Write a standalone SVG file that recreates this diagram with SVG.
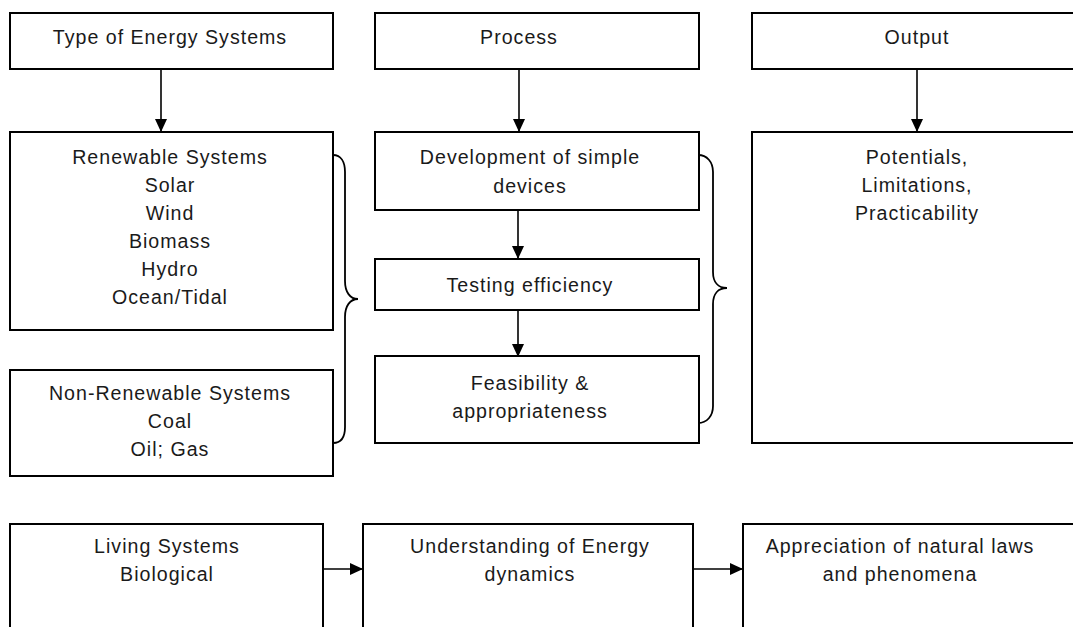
<svg xmlns="http://www.w3.org/2000/svg" width="1073" height="627" viewBox="0 0 1073 627">
<style>
rect.b{fill:#fff;stroke:#000;stroke-width:2}
text{font-family:"Liberation Sans",Arial,sans-serif;font-size:19.6px;letter-spacing:1px;fill:#1a1a1a;text-anchor:middle}
.c{fill:none;stroke:#000;stroke-width:1.6}
.br{fill:none;stroke:#000;stroke-width:1.8}
</style>
<defs>
<marker id="ah" markerUnits="userSpaceOnUse" markerWidth="14" markerHeight="14" viewBox="0 0 14 14" refX="13" refY="7" orient="auto">
<path d="M0,1 L13,7 L0,13 Z" fill="#000"/>
</marker>
</defs>
<rect width="1073" height="627" fill="#fff"/>
<g id="n-type"><rect class="b" x="10" y="13" width="323" height="56"/><text x="170" y="44">Type of Energy Systems</text></g>
<g id="n-process"><rect class="b" x="375" y="13" width="324" height="56"/><text x="519" y="44">Process</text></g>
<g id="n-output"><rect class="b" x="752" y="13" width="330" height="56"/><text x="917" y="44">Output</text></g>
<g id="n-renewable"><rect class="b" x="10" y="132" width="323" height="198"/>
<text x="170" y="164">Renewable Systems</text><text x="170" y="192">Solar</text><text x="170" y="220">Wind</text><text x="170" y="248">Biomass</text><text x="170" y="276">Hydro</text><text x="170" y="304">Ocean/Tidal</text></g>
<g id="n-nonrenewable"><rect class="b" x="10" y="370" width="323" height="106"/>
<text x="170" y="400">Non-Renewable Systems</text><text x="170" y="428">Coal</text><text x="170" y="456">Oil; Gas</text></g>
<g id="n-development"><rect class="b" x="375" y="132" width="324" height="78"/>
<text x="530" y="164">Development of simple</text><text x="530" y="193">devices</text></g>
<g id="n-testing"><rect class="b" x="375" y="259" width="324" height="51"/><text x="530" y="292">Testing efficiency</text></g>
<g id="n-feasibility"><rect class="b" x="375" y="356" width="324" height="87"/>
<text x="530" y="390">Feasibility &amp;</text><text x="530" y="418">appropriateness</text></g>
<g id="n-potentials"><rect class="b" x="752" y="132" width="330" height="311"/>
<text x="917" y="164">Potentials,</text><text x="917" y="192">Limitations,</text><text x="917" y="220">Practicability</text></g>
<g id="n-living"><rect class="b" x="10" y="524" width="313" height="130"/>
<text x="167" y="553">Living Systems</text><text x="167" y="581">Biological</text></g>
<g id="n-understanding"><rect class="b" x="363" y="524" width="330" height="130"/>
<text x="530" y="553">Understanding of Energy</text><text x="530" y="581">dynamics</text></g>
<g id="n-appreciation"><rect class="b" x="743" y="524" width="340" height="130"/>
<text x="900" y="553">Appreciation of natural laws</text><text x="900" y="581">and phenomena</text></g>
<g id="braces">
<path class="br" d="M333,155 C341,155 345,162 345,172 L345,281 C345,292 350,299 358,299 C350,299 345,306 345,317 L345,427 C345,437 341,443 333,443"/>
<path class="br" d="M698,155 C707,155 713,162 713,172 L713,272 C713,282 718,288 727,288 C718,288 713,294 713,304 L713,406 C713,416 707,423 698,423"/>
</g>
<g id="connectors">
<line class="c" x1="161" y1="70" x2="161" y2="132" marker-end="url(#ah)"/>
<line class="c" x1="519" y1="70" x2="519" y2="132" marker-end="url(#ah)"/>
<line class="c" x1="917" y1="70" x2="917" y2="132" marker-end="url(#ah)"/>
<line class="c" x1="518" y1="211" x2="518" y2="259" marker-end="url(#ah)"/>
<line class="c" x1="518" y1="311" x2="518" y2="357" marker-end="url(#ah)"/>
<line class="c" x1="324" y1="569" x2="363" y2="569" marker-end="url(#ah)"/>
<line class="c" x1="694" y1="569" x2="743" y2="569" marker-end="url(#ah)"/>
</g>
</svg>
